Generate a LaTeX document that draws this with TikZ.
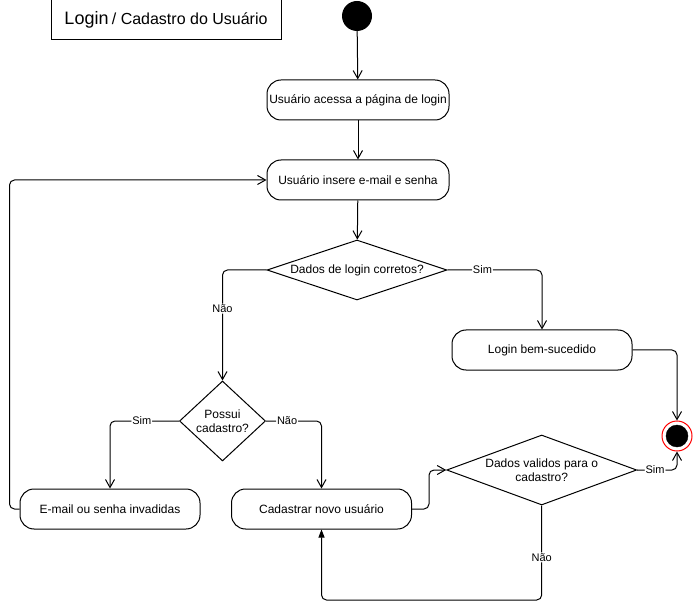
\documentclass[tikz,border=0pt]{standalone}
\usepackage{fontspec}
\setmainfont{Liberation Sans}
\usetikzlibrary{shapes.geometric,arrows.meta}
\begin{document}
\begin{tikzpicture}[x=1pt,y=-1pt,
  every node/.style={font=\fontsize{12}{14}\selectfont},
  actbox/.style={draw=black,line width=1pt,rounded corners=14pt,minimum width=182pt,minimum height=40pt,inner sep=0pt,align=center},
  decis/.style={draw=black,line width=1pt,diamond,inner sep=-1pt,align=center},
  flow/.style={draw=black,line width=1pt,rounded corners=5pt,-{Straight Barb[length=8pt,width=9pt,line width=1pt]}},
  flowfill/.style={draw=black,line width=1pt,rounded corners=5pt,-{Triangle[length=8pt,width=6pt]}},
  edgelab/.style={fill=white,inner sep=1pt,font=\fontsize{11}{13}\selectfont}
]
\useasboundingbox (0,0) rectangle (693,609);

% title
\node[draw=black,line width=1pt,minimum width=230pt,minimum height=40pt,inner sep=0pt] (title) at (166,20)
  {{\fontsize{18}{20}\selectfont Login} {\fontsize{16}{18}\selectfont / Cadastro do Usuário}};

% start
\node[circle,fill=black,minimum size=30pt,inner sep=0pt] (start) at (357,16) {};

\node[actbox] (b1) at (358,100) {Usuário acessa a página de login};
\node[actbox] (b2) at (358,180) {Usuário insere e-mail e senha};
\node[decis,minimum width=180pt,minimum height=60pt,aspect=3] (d1) at (357,270) {Dados de login corretos?};
\node[actbox,minimum width=180pt] (b3) at (542,350) {Login bem-sucedido};
\node[decis,minimum width=86pt,minimum height=80pt,aspect=1.08] (d2) at (222.5,421) {Possui\\cadastro?};
\node[actbox,minimum width=180pt] (b4) at (110,509) {E-mail ou senha invadidas};
\node[actbox,minimum width=180pt] (b5) at (321.5,509) {Cadastrar novo usuário};
\node[decis,minimum width=190pt,minimum height=70pt,aspect=2.71] (d3) at (541.7,470) {Dados validos para o\\cadastro?};

% end state
\node[circle,draw=red,line width=1pt,fill=white,minimum size=30pt,inner sep=0pt] (end) at (677,436) {};
\node[circle,draw=black,fill=black,minimum size=22pt,inner sep=0pt] (endin) at (end.center) {};

% connectors
\draw[flow] (start) -- (b1);
\draw[flow] (b1) -- (b2);
\draw[flow] (b2) -- (d1);
\draw[flow] (d1.west) -| node[edgelab,pos=0.675] {Não} (d2.north);
\draw[flow] (d1.east) -| node[edgelab,pos=0.185] {Sim} (b3.north);
\draw[flow] (d2.west) -| node[edgelab,pos=0.27] {Sim} (b4.north);
\draw[flow] (d2.east) -| node[edgelab,pos=0.19] {Não} (b5.north);
\draw[flow] (b4.west) -- ++(-10,0) |- (b2.west);
\draw[flow] (b3.east) -| (end.north);
\draw[flow] (b5.east) -- ++(17,0) |- (d3.west);
\draw[flow] (d3.east) -| node[edgelab,pos=0.225] {Sim} (end.south);
\coordinate (lowpt) at (541.7,600);
\draw[flowfill] (d3.south) -- node[edgelab,pos=0.55] {Não} (lowpt) -| (b5.south);
\end{tikzpicture}
\end{document}
